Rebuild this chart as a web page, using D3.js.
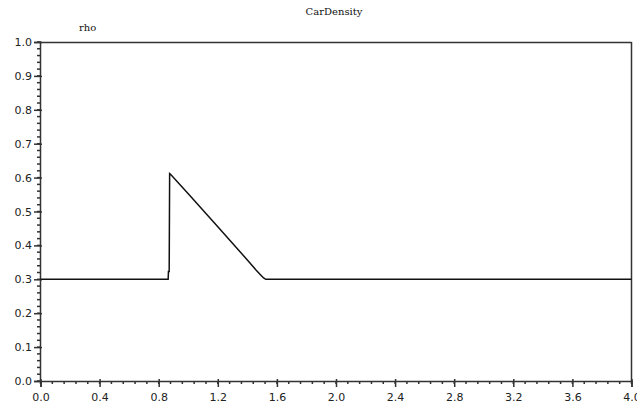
<!DOCTYPE html>
<html>
<head>
<meta charset="utf-8">
<script src="https://cdn.jsdelivr.net/npm/d3@7"></script>
<style>
  body { margin: 0; background: #fff; }
  svg { display: block; }
</style>
</head>
<body>
<script>
// chart size
const width = 637;
const height = 407;
const margin = { top: 42, right: 5, bottom: 26, left: 40 };
const plotW = width - margin.left - margin.right;
const plotH = height - margin.top - margin.bottom;

// data
const xs   = [0.0, 0.864, 0.866, 0.871, 0.874, 0.880, 1.00, 1.20, 1.40, 1.46, 1.49, 1.51, 1.525, 4.0];
const rhos = [0.3, 0.3,   0.323, 0.323, 0.612, 0.610, 0.552, 0.455, 0.357, 0.327, 0.313, 0.304, 0.300, 0.3];
const xTicks = [0.0, 0.4, 0.8, 1.2, 1.6, 2.0, 2.4, 2.8, 3.2, 3.6, 4.0];
const yTicks = [0.0, 0.1, 0.2, 0.3, 0.4, 0.5, 0.6, 0.7, 0.8, 0.9, 1.0];

const data = xs.map((x, i) => ({ x: x, y: rhos[i] }));

const svg = d3.select("body")
  .append("svg")
  .attr("width", width)
  .attr("height", height);

const g = svg.append("g")
  .attr("transform", `translate(${margin.left}, ${margin.top})`);

const xScale = d3.scaleLinear().domain([0, 4]).range([0.5, plotW - 0.5]);
const yScale = d3.scaleLinear().domain([0, 1]).range([plotH, 0]);

const axisColor = "#333";

// frame top and right
g.append("line")
  .attr("x1", xScale(0)).attr("x2", xScale(4))
  .attr("y1", 0.5).attr("y2", 0.5)
  .attr("stroke", axisColor).attr("stroke-width", 1.5);
g.append("line")
  .attr("x1", xScale(4)).attr("x2", xScale(4))
  .attr("y1", 0).attr("y2", plotH)
  .attr("stroke", axisColor).attr("stroke-width", 1.5);

// minor ticks
const xMinor = d3.range(0, 51).map(i => i * 0.08);
const yMinor = d3.range(0, 51).map(i => i * 0.02);

g.append("g")
  .selectAll("line")
  .data(xMinor)
  .enter()
  .append("line")
  .attr("x1", d => xScale(d)).attr("x2", d => xScale(d))
  .attr("y1", plotH).attr("y2", plotH + 3)
  .attr("stroke", axisColor).attr("stroke-width", 1.5);

g.append("g")
  .selectAll("line")
  .data(yMinor)
  .enter()
  .append("line")
  .attr("x1", -3).attr("x2", 1)
  .attr("y1", d => yScale(d)).attr("y2", d => yScale(d))
  .attr("stroke", axisColor).attr("stroke-width", 1.5);

// x axis
const xAxis = d3.axisBottom(xScale)
  .tickValues(xTicks)
  .tickFormat(d3.format(".1f"))
  .tickSize(6)
  .tickPadding(6);
const gx = g.append("g")
  .attr("transform", `translate(0, ${plotH})`)
  .call(xAxis);
gx.select(".domain").attr("stroke", axisColor).attr("stroke-width", 1.5);
gx.selectAll(".tick line").attr("stroke", axisColor).attr("stroke-width", 1.5).attr("y1", -2);

// y axis
const yAxis = d3.axisLeft(yScale)
  .tickValues(yTicks)
  .tickFormat(d3.format(".1f"))
  .tickSize(6)
  .tickPadding(2);
const gy = g.append("g").call(yAxis);
gy.select(".domain").attr("stroke", axisColor).attr("stroke-width", 1.5);
gy.selectAll(".tick line").attr("stroke", axisColor).attr("stroke-width", 1.5).attr("x1", 2);

svg.selectAll(".tick text")
  .attr("fill", "#222")
  .style("font-family", "DejaVu Sans")
  .style("font-size", "11px");

// data line
const line = d3.line()
  .x(d => xScale(d.x))
  .y(d => yScale(d.y));

g.append("path")
  .datum(data)
  .attr("fill", "none")
  .attr("stroke", "#111")
  .attr("stroke-width", 1.5)
  .attr("d", line);

// title
svg.append("text")
  .attr("x", 334)
  .attr("y", 15)
  .attr("text-anchor", "middle")
  .style("font-family", "DejaVu Serif")
  .style("font-size", "10px")
  .attr("fill", "#111")
  .text("CarDensity");

// y label
svg.append("text")
  .attr("x", 79)
  .attr("y", 31)
  .style("font-family", "DejaVu Serif")
  .style("font-size", "10px")
  .attr("fill", "#111")
  .text("rho");
</script>
</body>
</html>
